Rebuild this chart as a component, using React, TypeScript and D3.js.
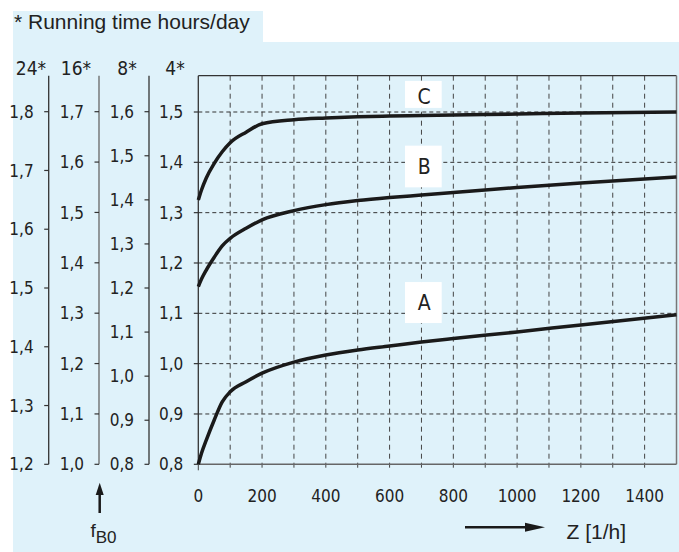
import React from 'react';
import * as d3 from 'd3';

// ---- data ----
const zPoints = [0, 10, 25, 50, 75, 100, 150, 200, 300, 400, 500, 600, 700, 800, 1000, 1200, 1500];
const curveA = [0.8, 0.822, 0.848, 0.888, 0.924, 0.944, 0.964, 0.981, 1.003, 1.017, 1.027, 1.035, 1.043, 1.05, 1.063, 1.077, 1.097];
const curveB = [1.153, 1.168, 1.186, 1.2115, 1.234, 1.249, 1.269, 1.2857, 1.304, 1.316, 1.324, 1.33, 1.335, 1.34, 1.35, 1.359, 1.371];
const curveC = [1.325, 1.345, 1.369, 1.398, 1.421, 1.439, 1.46, 1.4766, 1.4845, 1.488, 1.4905, 1.492, 1.493, 1.494, 1.496, 1.498, 1.5];
const curveNames = ['A', 'B', 'C'];
const labelZ = [707, 707, 707];
const labelF = [1.121, 1.392, 1.53];
const xTickLabels = [0, 200, 400, 600, 800, 1000, 1200, 1400];
const xGridValues = [100, 200, 300, 400, 500, 600, 700, 800, 900, 1000, 1100, 1200, 1300, 1400];
const axis24 = [1.2, 1.3, 1.4, 1.5, 1.6, 1.7, 1.8];
const axis16 = [1.0, 1.1, 1.2, 1.3, 1.4, 1.5, 1.6, 1.7];
const axis8 = [0.8, 0.9, 1.0, 1.1, 1.2, 1.3, 1.4, 1.5, 1.6];
const axis4 = [0.8, 0.9, 1.0, 1.1, 1.2, 1.3, 1.4, 1.5];
const axisHeaders = ['24*', '16*', '8*', '4*'];
const titleText = '* Running time hours/day';
const xAxisTitle = 'Z [1/h]';

const W = 679, H = 552;
const plotL = 198.3, plotR = 676.5, plotT = 75.7, plotB = 464.3;
const BG = '#dff2fa';
const INK = '#1a1a1a';
const COND = "'Liberation Sans Narrow','DejaVu Sans Condensed','Arial Narrow',sans-serif";
const REG = "'Liberation Sans',Arial,sans-serif";

const fmt = (v: number) => v.toFixed(1).replace('.', ',');

export default function App() {
  const x = d3.scaleLinear().domain([0, 1500]).range([plotL, plotR]);
  const y4 = d3.scaleLinear().domain([0.8, 1.5]).range([plotB, 112]);
  const y8 = d3.scaleLinear().domain([0.8, 1.6]).range([plotB, 111.7]);
  const y16 = d3.scaleLinear().domain([1.0, 1.7]).range([plotB, 111.7]);
  const y24 = d3.scaleLinear().domain([1.2, 1.8]).range([plotB, 111.7]);

  const axes = [
    { x: 48.7, scale: y24, ticks: axis24, header: axisHeaders[0], hx: 31, color: '#333' },
    { x: 99, scale: y16, ticks: axis16, header: axisHeaders[1], hx: 76, color: '#666' },
    { x: 149, scale: y8, ticks: axis8, header: axisHeaders[2], hx: 127, color: '#333' },
    { x: plotL, scale: y4, ticks: axis4, header: axisHeaders[3], hx: 175, color: '#333' },
  ];

  const line = d3
    .line<number>()
    .x((_, i) => x(zPoints[i]))
    .y((d) => y4(d))
    .curve(d3.curveMonotoneX);

  const curves = [curveA, curveB, curveC];
  const boxOff = [
    [-20.7, 20.3],
    [-20.7, 21],
    [-16, 11],
  ];

  return (
    <svg width={W} height={H} style={{ position: 'absolute', left: 0, top: 0 }}>
      <rect x={0} y={0} width={W} height={H} fill="#fff" />
      <rect x={13} y={11} width={250} height={31} fill={BG} />
      <rect x={13} y={42} width={W - 13} height={H - 42} fill={BG} />
      <text x={14} y={28.5} fontFamily={REG} fontSize={21} fill="#222">{titleText}</text>

      {/* vertical grid */}
      {xGridValues.map((v) => (
        <line key={'vg' + v} x1={x(v)} x2={x(v)} y1={plotT} y2={plotB + 6} stroke="#444" strokeWidth={1} strokeDasharray="5,4" />
      ))}
      <line x1={x(0)} x2={x(0)} y1={plotB} y2={plotB + 6} stroke="#444" strokeWidth={1} />
      {/* horizontal grid */}
      {axis4.filter((v) => v > 0.85).map((v) => (
        <line key={'hg' + v} x1={plotL} x2={plotR} y1={y4(v)} y2={y4(v)} stroke="#333" strokeWidth={1} strokeDasharray="4,3" />
      ))}

      {/* frame */}
      <line x1={plotL} x2={plotR} y1={plotT} y2={plotT} stroke="#333" strokeWidth={1.2} />
      <line x1={plotR} x2={plotR} y1={plotT} y2={plotB} stroke="#777" strokeWidth={1.5} />
      <line x1={plotL} x2={plotR} y1={plotB} y2={plotB} stroke="#666" strokeWidth={1.5} />

      {/* left axes */}
      {axes.map((a, ai) => (
        <g key={'ax' + ai}>
          <line x1={a.x} x2={a.x} y1={plotT} y2={plotB} stroke={a.color} strokeWidth={1.3} />
          {a.ticks.map((t) => (
            <g key={'t' + t}>
              <line x1={a.x - 4.5} x2={a.x} y1={a.scale(t)} y2={a.scale(t)} stroke="#333" strokeWidth={1.2} />
              <text x={a.x - 15} y={a.scale(t)} dy="0.36em" textAnchor="end" fontFamily={COND} fontSize={17} fill="#222">
                {fmt(t)}
              </text>
            </g>
          ))}
          <text x={a.hx} y={74.5} textAnchor="middle" fontFamily={COND} fontSize={19} fill="#222">{a.header}</text>
        </g>
      ))}

      {/* x tick labels */}
      {xTickLabels.map((v) => (
        <text key={'xl' + v} x={x(v)} y={501.5} textAnchor="middle" fontFamily={COND} fontSize={17} fill="#222">{v}</text>
      ))}

      {/* curve labels */}
      {curveNames.map((n, i) => {
        const cx = x(labelZ[i]);
        const cy = y4(labelF[i]);
        return (
          <g key={'lab' + n}>
            <rect x={405} y={cy + boxOff[i][0]} width={36.7} height={boxOff[i][1] - boxOff[i][0]} fill="#fff" />
            <text x={cx + 0.5} y={cy} dy="0.36em" textAnchor="middle" fontFamily={COND} fontSize={21} fill="#222">{n}</text>
          </g>
        );
      })}

      {/* curves */}
      {curves.map((c, i) => (
        <path key={'c' + i} d={line(c) || ''} fill="none" stroke={INK} strokeWidth={3.5} strokeLinecap="butt" />
      ))}

      {/* f_B0 arrow */}
      <line x1={99.7} x2={99.7} y1={513} y2={492} stroke={INK} strokeWidth={2.5} />
      <path d="M 99.7 482.7 L 103.7 495 L 95.7 495 Z" fill={INK} />
      <text x={90.5} y={537} fontFamily={REG} fontSize={19} fill="#222">
        f
        <tspan fontSize={17} dy={6}>B0</tspan>
      </text>

      {/* Z arrow */}
      <line x1={465} x2={528} y1={527.3} y2={527.3} stroke={INK} strokeWidth={2.5} />
      <path d="M 545 527.3 L 525 522.8 L 525 531.8 Z" fill={INK} />
      <text x={566.5} y={539} fontFamily={REG} fontSize={21} fill="#222">{xAxisTitle}</text>
    </svg>
  );
}
